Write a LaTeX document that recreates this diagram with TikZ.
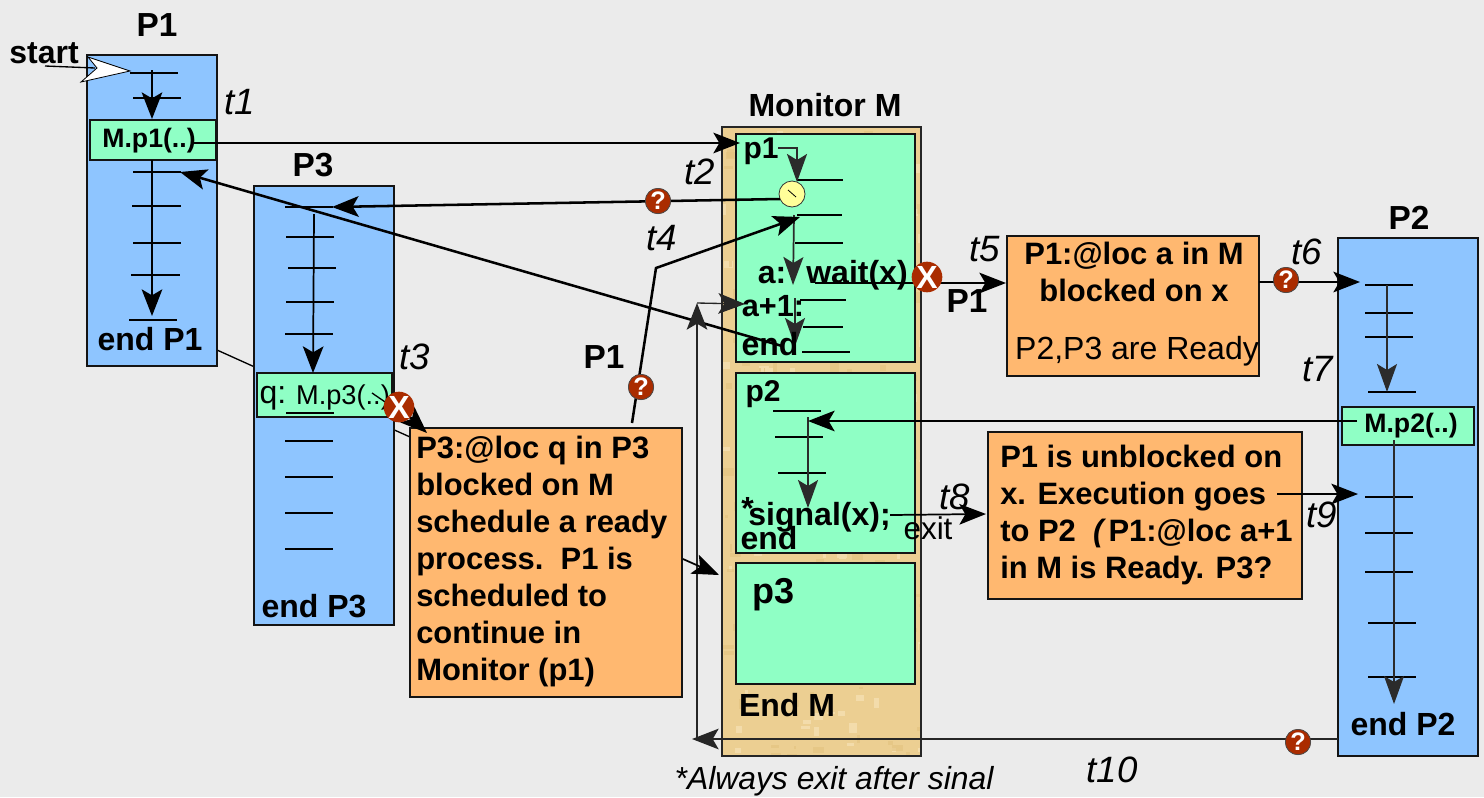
\documentclass[tikz,border=0pt]{standalone}
\usepackage{fontspec}
\setmainfont{Liberation Sans}
\usetikzlibrary{arrows.meta}
\definecolor{bgc}{HTML}{EBEBEB}
\definecolor{procblue}{HTML}{8EC5FF}
\definecolor{mint}{HTML}{8FFFC5}
\definecolor{tan}{HTML}{ECCF92}
\definecolor{tanlight}{HTML}{F3DCAB}
\definecolor{tandark}{HTML}{E3C27E}
\definecolor{orangebox}{HTML}{FFB870}
\definecolor{badge}{HTML}{AA2C00}
\definecolor{darkln}{HTML}{2B2B2B}
\definecolor{clockfill}{HTML}{FFFF99}
\newcommand{\pxf}[1]{\fontsize{#1}{#1}\selectfont}
\tikzset{
  proc/.style={draw=black!92,line width=2.2pt,fill=procblue,inner sep=0pt,outer sep=0pt},
  call/.style={draw=black!92,line width=2.2pt,fill=mint,inner sep=0pt,outer sep=0pt},
  orangeb/.style={draw=black!92,line width=2.2pt,fill=orangebox,inner sep=0pt,outer sep=0pt},
  lbl/.style={inner sep=0pt,font=\pxf{24pt}\bfseries},
  lblb/.style={inner sep=0pt,font=\pxf{25pt}\bfseries},
  time/.style={inner sep=0pt,font=\pxf{27.5pt}\itshape},
  para/.style={inner sep=0pt,anchor=north west,align=left,font=\fontsize{23.2pt}{27.7pt}\selectfont\bfseries},
  tick/.style={line width=1.5pt,black},
  bigtip/.tip={Stealth[length=20pt,width=15.5pt,inset=4.5pt]},
  darktip/.tip={Stealth[length=21pt,width=15pt,inset=4.5pt]},
  thin1/.style={line width=1pt,black,-bigtip},
  thick1/.style={line width=1.9pt,black,-bigtip},
  flow/.style={line width=1.3pt,black,-bigtip},
  dflow/.style={line width=1.3pt,darkln,-darktip},
  qmark/.style={circle,draw=black!70,line width=.5pt,fill=badge,minimum size=19pt,inner sep=0pt,text=white,font=\pxf{19pt}\bfseries},
  xmark/.style={circle,draw=none,fill=badge,minimum size=20pt,inner sep=0pt,text=white,font=\pxf{24pt}\bfseries},
}
\begin{document}
\begin{tikzpicture}[x=0.75pt,y=-0.75pt]
\useasboundingbox (0,0) rectangle (1484,797);
\fill[bgc] (0,0) rectangle (1484,797);

% named end points
\coordinate (bgA) at (217,350); \coordinate (bgB) at (410,437);
\coordinate (startA) at (45,66); \coordinate (startB) at (95,68);
\coordinate (p1a) at (152,70); \coordinate (p1b) at (152,119);
\coordinate (p1c) at (152,160); \coordinate (p1d) at (152,316);
\coordinate (p3a) at (314,214); \coordinate (p3b) at (313,373);
\coordinate (callA) at (193,143); \coordinate (callB) at (740,143);
\coordinate (retA) at (780,199); \coordinate (retB) at (332,207);
\coordinate (endA) at (782,346); \coordinate (endB) at (180,172);
\coordinate (schA) at (632,423); \coordinate (schB) at (656,268); \coordinate (schC) at (800,217);
\coordinate (mA) at (778,148); \coordinate (mB) at (797,148); \coordinate (mC) at (797,182);
\coordinate (mD) at (794,215); \coordinate (mE) at (793,285);
\coordinate (mF) at (795,298); \coordinate (mG) at (795,346);
\coordinate (waitA) at (815,283); \coordinate (waitB) at (1006,283);
\coordinate (upA) at (697,739); \coordinate (upB) at (697,303); \coordinate (upC) at (745,304);
\coordinate (exitA) at (1338,739); \coordinate (exitB) at (692,739);
\coordinate (boxA) at (683,559); \coordinate (boxB) at (719,575);
\coordinate (m2A) at (1357,421); \coordinate (m2B) at (808,421);
\coordinate (m2C) at (808,417); \coordinate (m2D) at (808,508);
\coordinate (sigA) at (890,515); \coordinate (sigB) at (986,514);
\coordinate (o1A) at (1259,282); \coordinate (o1B) at (1360,282);
\coordinate (p2a) at (1387,285); \coordinate (p2b) at (1387,392);
\coordinate (p2c) at (1394,440); \coordinate (p2d) at (1394,704);
\coordinate (o2A) at (1277,494); \coordinate (o2B) at (1358,494);
\coordinate (q3A) at (372,393); \coordinate (q3B) at (391,406);
\coordinate (x3A) at (399,407); \coordinate (x3B) at (427,433);
\coordinate (clockA) at (792,194); \coordinate (clockB) at (796,197); \coordinate (clockC) at (788,190);

\draw[line width=1pt,black] (bgA) -- (bgB);

% processes
\node[proc,anchor=north west,minimum width=97.5pt,minimum height=233.25pt] (P1) at (87,55) {};
\node[proc,anchor=north west,minimum width=105pt,minimum height=329.25pt] (P3) at (254,186) {};
\node[proc,anchor=north west,minimum width=105pt,minimum height=388.5pt] (P2) at (1338,238) {};
% monitor
\node[anchor=north west,fill=tan,minimum width=149.25pt,minimum height=471.75pt,inner sep=0pt,outer sep=0pt] (MonBg) at (722,127) {};
\begin{scope}
\clip (722,127) rectangle (921,756);
\pgfmathsetseed{42}
\foreach \k in {1,...,320}{
  \pgfmathsetmacro{\sx}{722+199*rnd}
  \pgfmathsetmacro{\sy}{127+629*rnd}
  \pgfmathsetmacro{\sw}{2+9*rnd}
  \pgfmathsetmacro{\sh}{2+9*rnd}
  \pgfmathtruncatemacro{\sc}{mod(\k,2)}
  \ifnum\sc=0 \fill[tanlight] (\sx,\sy) rectangle +(\sw,\sh);
  \else \fill[tandark,opacity=.6] (\sx,\sy) rectangle +(\sw,\sh); \fi
}
\end{scope}
\node[anchor=north west,draw=black!85,line width=2pt,fill=none,minimum width=149.25pt,minimum height=471.75pt,inner sep=0pt,outer sep=0pt] (Mon) at (722,127) {};
\node[call,anchor=north west,minimum width=134.25pt,minimum height=171pt] (M1) at (736,134) {};
\node[call,anchor=north west,minimum width=134.25pt,minimum height=135pt] (M2) at (736,373) {};
\node[call,anchor=north west,minimum width=134.25pt,minimum height=90.75pt] (M3) at (736,563) {};

% ticks
\foreach \xa/\xb/\yy in {130/178/73,133/181/98,133/181/172,132/181/206,133/181/243,131/180/275,129/177/320,
 285/333/207,286/334/237,288/336/268,286/334/302,285/333/334,285/333/441,285/333/477,285/333/513,285/333/549,
 797/843/180,797/842/215,795/843/243,800/846/300,803/843/327,802/850/352,773/821/411,775/823/437,778/826/473,
 1365/1413/285,1365/1413/313,1365/1413/337,1368/1416/392,1365/1413/497,1365/1413/533,1365/1413/572,1368/1416/623,1368/1416/677}
  \draw[tick] (\xa,\yy) -- (\xb,\yy);

% call boxes
\node[call,anchor=north west,minimum width=94.5pt,minimum height=30pt] (cp1) at (90,120) {};
\node[call,anchor=north west,minimum width=101.25pt,minimum height=33pt] (cp3) at (257,373) {};
\draw[tick] (286,413) -- (334,413);
\node[call,anchor=north west,minimum width=99pt,minimum height=28.5pt] (cp2) at (1342,407) {};
\node[inner sep=0pt,font=\pxf{20pt}\bfseries] (tp1) at (149,141) {M.p1(..)};
\node[inner sep=0pt,font=\pxf{24pt}] (tq) at (273,398) {q:};
\node[inner sep=0pt,font=\pxf{20.4pt}] (tp3) at (343,397) {M.p3(..)};
\node[inner sep=0pt,font=\pxf{20pt}\bfseries] (tp2) at (1411,426) {M.p2(..)};

% orange boxes
\node[orangeb,anchor=north west,minimum width=204pt,minimum height=201.75pt] (O3) at (410,428) {};
\node[orangeb,anchor=north west,minimum width=189pt,minimum height=105pt] (O1) at (1007,236) {};
\node[orangeb,anchor=north west,minimum width=235.5pt,minimum height=125.25pt] (O2) at (988,432) {};
\node[para] (tO3) at (416,436) {P3:@loc q in P3\\blocked on M\\schedule a ready\\process.\ \ P1 is\\scheduled to\\continue in\\Monitor (p1)};
\node[para] (tO2) at (1000,445) {P1 is unblocked on\\x. Execution goes\\to P2\ \ {\itshape(}\,P1:@loc a+1\\in M is Ready. P3?};
\node[para,anchor=north,align=center] (tO1) at (1134,242) {P1:@loc a in M\\blocked on x};
\node[inner sep=0pt,font=\pxf{24pt}] (tO1b) at (1137,351) {P2,P3 are Ready};

% connectors inside processes
\draw[flow] (p1a) -- (p1b);
\draw[flow] (p1c) -- (p1d);
\draw[flow] (p3a) -- (p3b);
\draw[dflow] (p2a) -- (p2b);
\draw[dflow] (p2c) -- (p2d);
\draw[dflow] (mD) -- (mE);
\draw[dflow] (mF) -- (mG);
\draw[dflow] (m2C) -- (m2D);
\draw[line width=1.5pt,darkln,-darktip] (mA) -- (mB) -- (mC);

% texts
\node[lblb] (lP1) at (157,25) {P1};
\node[lblb] (lP3) at (313,165) {P3};
\node[lblb] (lP2) at (1409,218) {P2};
\node[lbl] (lMon) at (825,105) {Monitor M};
\node[lbl] (lstart) at (44,53) {start};
\node[lbl] (leP1) at (150,339) {end P1};
\node[lbl] (leP3) at (314,606) {end P3};
\node[lbl] (leP2) at (1403,724) {end P2};
\node[lbl] (lEM) at (787,705) {End M};
\node[lbl,font=\pxf{22.5pt}\bfseries] (lp1) at (761,151) {p1};
\node[lbl,font=\pxf{22.5pt}\bfseries] (lp2) at (763,394) {p2};
\node[lblb,font=\pxf{27pt}\bfseries] (lp3) at (773,595) {p3};
\node[lbl] (la) at (772,275) {a:};
\node[lbl] (lwait) at (857,275) {wait(x)};
\node[lbl,font=\pxf{23pt}\bfseries] (la1) at (773,306) {a+1:};
\node[lbl] (lend) at (770,344) {end};
\node[lbl] (lsig) at (816,515) {\raisebox{5pt}{*}\kern-4pt signal(x);};
\node[lbl] (lend2) at (769,538) {end};
\node[inner sep=0pt,font=\pxf{23.6pt}] (lexit) at (928,528) {exit};
\node[lblb] (lP1a) at (604,357) {P1};
\node[lblb] (lP1b) at (967,301) {P1};
\node[time] (t1) at (240,102) {t1};
\node[time] (t2) at (700,172) {t2};
\node[time] (t3) at (415,357) {t3};
\node[time] (t4) at (662,238) {t4};
\node[time] (t5) at (985,249) {t5};
\node[time] (t6) at (1307,252) {t6};
\node[time] (t7) at (1318,369) {t7};
\node[time] (t8) at (955,497) {t8};
\node[time] (t9) at (1322,515) {t9};
\node[time] (t10) at (1112,770) {t10};
\node[inner sep=0pt,font=\pxf{23.9pt}\itshape] (cap) at (834,781) {*Always exit after sinal};

% yellow clock
\node[circle,draw=black!80,line width=.6pt,fill=clockfill,minimum size=19.5pt,inner sep=0pt] (clock) at (clockA) {};
\draw[line width=.6pt,black] (clockB) -- (clockC);

% start arrow
\draw[black,fill=white,line width=.6pt] (88,57) -- (130,71) -- (81,82) -- (97,68) -- cycle;
\draw[line width=1pt,black] (startA) -- (startB);

% badges
\node[qmark] (q1) at (658,201) {?};
\node[qmark] (q2) at (641,387) {?};
\node[qmark] (q3) at (1286,280) {?};
\node[qmark] (q4) at (1298,742) {?};

% long connectors
\draw[thin1] (callA) -- (callB);
\draw[thick1] (retA) -- (retB);
\draw[thick1] (endA) -- (endB);
\draw[thick1] (schA) -- (schB) -- (schC);
\draw[line width=1pt,black!85,-bigtip] (upA) -- (upB);
\draw[line width=1pt,black!85,-bigtip] (upB) -- (upC);
\draw[line width=1pt,black!85,-bigtip] (exitA) -- (exitB);
\draw[flow] (boxA) -- (boxB);
\draw[flow] (m2A) -- (m2B);
\draw[flow] (sigA) -- (sigB);
\draw[flow] (waitA) -- (waitB);
\draw[flow] (o1A) -- (o1B);
\draw[flow] (o2A) -- (o2B);
\draw[line width=1pt,black] (q3A) -- (q3B);

% badges above lines
\node[qmark] (q1t) at (q1) {?};
\node[qmark] (q3t) at (q3) {?};
\node[qmark] (q4t) at (q4) {?};
\node[qmark] (q2t) at (q2) {?};
\draw[thick1] (x3A) -- (x3B);
\node[xmark] (x1) at (927,277) {\raisebox{-2pt}{X}};
\node[xmark] (x3) at (x3A) {\raisebox{-2pt}{X}};
\end{tikzpicture}
\end{document}
